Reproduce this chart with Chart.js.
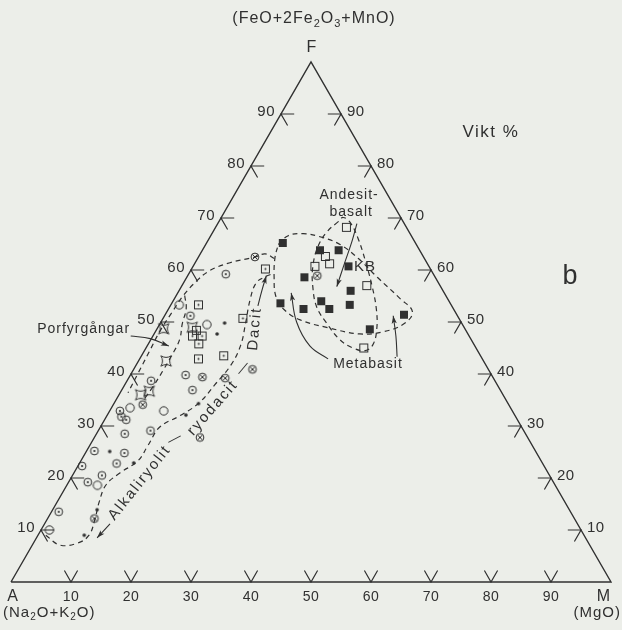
<!DOCTYPE html>
<html>
<head>
<meta charset="utf-8">
<script src="https://cdn.jsdelivr.net/npm/chart.js@4.4.1/dist/chart.umd.min.js"></script>
<style>
  html, body { margin: 0; padding: 0; background: #eceee9; }
  #wrap { width: 622px; height: 630px; position: relative; }
</style>
</head>
<body>
<div id="wrap"><canvas id="myChart"></canvas></div>
<script>
// every pair is [MgO %, (FeO+2Fe2O3+MnO) %], alkalis are the rest to 100
const tickValues = [10, 20, 30, 40, 50, 60, 70, 80, 90];

const openCircles = [[1.4, 53.3], [7.9, 49.5], [9.0, 32.9], [3.1, 33.5], [5.1, 18.6], [1.4, 10.0]];
const dotCircles = [[6.2, 59.2], [4.3, 51.2], [9.2, 39.8], [4.0, 38.7], [11.8, 36.9], [1.7, 32.9],
  [2.5, 31.8], [3.6, 31.2], [4.7, 28.5], [8.7, 29.1], [1.3, 25.2], [6.5, 24.8], [6.2, 22.8],
  [0.7, 22.3], [3.2, 19.2], [4.9, 20.5], [1.2, 13.5]];
const crossCircles = [[9.4, 62.5], [12.2, 39.4], [16.1, 39.2], [19.8, 40.9], [4.9, 34.1],
  [17.6, 27.8], [7.8, 12.2], [21.6, 58.9]];
const smallDots = [[10.7, 49.8], [10.5, 47.7], [14.1, 34.3], [13.1, 32.1], [3.9, 25.1],
  [9.0, 22.9], [7.4, 13.9], [7.7, 9.0]];
const dotSquares = [[12.3, 60.2], [4.6, 53.3], [13.3, 50.7], [6.6, 47.3], [8.2, 47.3],
  [6.7, 48.4], [8.4, 45.8], [9.8, 42.9], [13.7, 43.5]];
const porfyr = [[1.1, 48.7], [5.7, 49.0], [4.6, 42.5], [4.7, 36.7], [3.6, 36.0]];
const metabasitFilled = [[12.7, 65.2], [19.6, 63.8], [22.7, 63.8], [25.9, 60.7], [19.6, 58.6],
  [28.6, 56.0], [18.1, 53.6], [22.5, 52.5], [24.7, 54.0], [26.8, 52.5], [29.8, 53.3],
  [39.8, 51.4], [35.5, 48.6]];
const andesitOpen = [[21.8, 68.2], [21.1, 62.6], [22.5, 61.2], [20.3, 60.7], [30.8, 57.0], [36.3, 45.0]];

// field outlines (dashed)
const felsicRight = [[1.3, 9.0], [4.6, 7.1], [7.4, 7.5], [8.5, 9.0], [8.0, 11.9], [7.0, 15.4],
  [6.5, 18.7], [7.7, 21.0], [9.5, 23.3], [9.7, 26.2], [9.9, 29.8], [12.2, 32.0], [14.1, 34.4],
  [15.0, 37.9], [15.8, 41.8], [15.5, 45.6], [14.2, 49.8], [12.7, 54.3], [12.1, 57.5],
  [13.0, 58.7], [14.0, 59.3]];
const felsicTop = [[12.8, 62.2], [10.8, 63.1], [9.4, 62.5], [5.8, 61.4], [3.2, 59.9], [2.0, 57.9],
  [1.2, 55.2], [0.9, 51.8], [0.7, 48.1], [0.9, 44.3], [1.1, 40.2], [1.3, 36.4]];
const porfyrField = [[1.4, 55.1], [2.9, 52.6], [3.7, 49.7], [4.8, 46.6], [5.0, 43.5], [5.0, 40.6],
  [4.9, 37.7], [4.6, 35.2]];
const metabasitField = [[12.1, 64.9], [12.9, 66.6], [15.2, 67.0], [18.3, 66.4], [22.4, 64.9],
  [26.8, 62.2], [31.9, 58.5], [37.6, 54.5], [40.9, 52.0], [40.7, 49.7], [37.9, 48.1],
  [34.3, 47.7], [28.4, 48.9], [23.0, 50.4], [19.3, 52.4], [16.7, 54.9], [14.5, 58.7],
  [12.8, 62.4], [12.1, 64.9]];
const andesitField = [[19.9, 69.3], [19.0, 67.4], [18.9, 64.5], [20.0, 60.6], [21.9, 56.8],
  [24.5, 52.9], [27.7, 49.8], [31.5, 46.6], [34.5, 45.0], [36.8, 44.5], [37.5, 45.6],
  [36.7, 48.5], [34.7, 52.4], [31.8, 56.8], [28.0, 62.0], [24.7, 66.2], [22.0, 69.1],
  [20.3, 70.1], [19.9, 69.3]];

// pointer arrows
const arrowPorfyr = [[-3.7, 47.3], [-0.2, 46.8], [3.6, 45.4]];
const arrowDacit = [[14.6, 53.1], [13.8, 56.0], [13.1, 58.9]];
const arrowAlkali = [[10.9, 11.2], [10.1, 8.5]];
const arrowAndesit = [[23.2, 68.9], [24.1, 65.4], [25.0, 61.0], [25.9, 56.8]];
const arrowMeta1 = [[31.4, 42.9], [27.1, 45.4], [22.6, 50.0], [18.9, 55.6]];
const arrowMeta2 = [[42.7, 43.3], [40.5, 47.3], [38.1, 51.2]];

const annotations = [
  { text: 'Porfyrgångar', at: [-12.2, 48.6], size: 14 },
  { text: 'Andesit-', at: [19.2, 74.3], size: 14 },
  { text: 'basalt', at: [21.1, 71.2], size: 14 },
  { text: 'KB', at: [28.7, 60.6], size: 15 },
  { text: 'Metabasit', at: [38.6, 41.8], size: 14 },
  { text: 'Alkaliryolit', at: [11.9, 19.1], size: 15, angle: -51.5, spacing: 2 },
  { text: '\u2014', at: [13.5, 27.6], size: 14, angle: -28 },
  { text: 'ryodacit', at: [16.9, 33.5], size: 15, angle: -48.5, spacing: 2 },
  { text: '\u2014', at: [18.1, 41.2], size: 14, angle: -50 },
  { text: 'Dacit', at: [16.3, 48.7], size: 15, angle: -85, spacing: 2 },
  { text: 'Vikt %', at: [36.8, 86.4], size: 17, spacing: 1.5 },
  { text: 'b', at: [63.8, 58.7], size: 27, spacing: 0 }
];

const INK = '#303030';
const FONT = "'Liberation Sans', Arial, sans-serif";
const H = Math.sqrt(3) / 2;

function tern(m, f) {
  return { x: m + f / 2, y: f * H };
}
function toXY(list) {
  return list.map(p => tern(p[0], p[1]));
}

// little symbols used as point styles
function symbol(size, draw) {
  const c = document.createElement('canvas');
  c.width = size; c.height = size;
  const g = c.getContext('2d');
  g.strokeStyle = INK; g.fillStyle = INK; g.lineWidth = 1;
  draw(g, size / 2);
  return c;
}
const symOpenCircle = symbol(12, (g, c) => { g.beginPath(); g.arc(c, c, 4.2, 0, 2 * Math.PI); g.stroke(); });
const symDotCircle = symbol(12, (g, c) => {
  g.beginPath(); g.arc(c, c, 3.9, 0, 2 * Math.PI); g.stroke();
  g.beginPath(); g.arc(c, c, 1.1, 0, 2 * Math.PI); g.fill();
});
const symCrossCircle = symbol(12, (g, c) => {
  g.beginPath(); g.arc(c, c, 3.9, 0, 2 * Math.PI); g.stroke();
  g.beginPath();
  g.moveTo(c - 2.6, c - 2.6); g.lineTo(c + 2.6, c + 2.6);
  g.moveTo(c + 2.6, c - 2.6); g.lineTo(c - 2.6, c + 2.6);
  g.stroke();
});
const symDot = symbol(6, (g, c) => { g.beginPath(); g.arc(c, c, 1.8, 0, 2 * Math.PI); g.fill(); });
const symDotSquare = symbol(11, (g, c) => {
  g.strokeRect(1.5, 1.5, 8, 8);
  g.beginPath(); g.arc(c, c, 1, 0, 2 * Math.PI); g.fill();
});
const symStar = symbol(14, (g, c) => {
  const r = 5.2;
  g.beginPath();
  g.moveTo(c - r, c - r);
  g.quadraticCurveTo(c, c - 2, c + r, c - r);
  g.quadraticCurveTo(c + 2, c, c + r, c + r);
  g.quadraticCurveTo(c, c + 2, c - r, c + r);
  g.quadraticCurveTo(c - 2, c, c - r, c - r);
  g.stroke();
});
const symFilledSquare = symbol(10, (g) => { g.fillRect(1, 1, 8, 8); });
const symOpenSquare = symbol(11, (g) => { g.strokeRect(1.5, 1.5, 8, 8); });

// tick marks on the three edges, built from the tick values
const tickLen = 2.2;
const gap = { x: null, y: null };
const tickSegs = [];
tickValues.forEach(v => {
  tickSegs.push(tern(v - tickLen, tickLen), tern(v, 0), tern(v, tickLen), gap);
  tickSegs.push(tern(tickLen, v), tern(0, v), tern(tickLen, v - tickLen), gap);
  tickSegs.push(tern(100 - v - tickLen, v), tern(100 - v, v), tern(100 - v, v - tickLen), gap);
});

const lineBase = { showLine: true, borderColor: INK, pointRadius: 0, fill: false, clip: false };
const dashed = Object.assign({}, lineBase, { borderWidth: 1.2, borderDash: [5, 4], tension: 0.4 });
const arrow = Object.assign({}, lineBase, { borderWidth: 1.1, tension: 0.4, arrow: true });
function pts(list, style) {
  return { data: toXY(list), pointStyle: style, pointRadius: 4, clip: false };
}

const datasets = [
  Object.assign({}, lineBase, { data: toXY([[0, 0], [100, 0], [0, 100], [0, 0]]), borderWidth: 1.4 }),
  Object.assign({}, lineBase, { data: tickSegs, borderWidth: 1.2 }),
  Object.assign({}, dashed, { data: toXY(felsicRight) }),
  Object.assign({}, dashed, { data: toXY(felsicTop) }),
  Object.assign({}, dashed, { data: toXY(porfyrField) }),
  Object.assign({}, dashed, { data: toXY(metabasitField) }),
  Object.assign({}, dashed, { data: toXY(andesitField) }),
  Object.assign({}, arrow, { data: toXY(arrowPorfyr) }),
  Object.assign({}, arrow, { data: toXY(arrowDacit) }),
  Object.assign({}, arrow, { data: toXY(arrowAlkali) }),
  Object.assign({}, arrow, { data: toXY(arrowAndesit) }),
  Object.assign({}, arrow, { data: toXY(arrowMeta1) }),
  Object.assign({}, arrow, { data: toXY(arrowMeta2) }),
  pts(openCircles, symOpenCircle),
  pts(dotCircles, symDotCircle),
  pts(crossCircles, symCrossCircle),
  pts(smallDots, symDot),
  pts(dotSquares, symDotSquare),
  pts(porfyr, symStar),
  pts(metabasitFilled, symFilledSquare),
  pts(andesitOpen, symOpenSquare)
];

function drawText(ctx, str, x, y, size, align, angle, spacing) {
  ctx.save();
  ctx.font = size + 'px ' + FONT;
  ctx.letterSpacing = (spacing === undefined ? 1 : spacing) + 'px';
  ctx.fillStyle = INK;
  ctx.textAlign = align || 'center';
  ctx.textBaseline = 'middle';
  ctx.translate(x, y);
  if (angle) ctx.rotate(angle * Math.PI / 180);
  ctx.fillText(str, 0, 0);
  ctx.restore();
}

// text with subscripts, parts = [[text, isSub], ...]
function drawRich(ctx, parts, x, y, size, align) {
  ctx.save();
  ctx.fillStyle = INK;
  ctx.textBaseline = 'middle';
  ctx.textAlign = 'left';
  ctx.letterSpacing = '1px';
  const subSize = Math.round(size * 0.68);
  let total = 0;
  parts.forEach(p => { ctx.font = (p[1] ? subSize : size) + 'px ' + FONT; total += ctx.measureText(p[0]).width; });
  let cx = align === 'center' ? x - total / 2 : (align === 'right' ? x - total : x);
  parts.forEach(p => {
    ctx.font = (p[1] ? subSize : size) + 'px ' + FONT;
    ctx.fillText(p[0], cx, p[1] ? y + size * 0.3 : y);
    cx += ctx.measureText(p[0]).width;
  });
  ctx.restore();
}

function arrowHead(ctx, meta) {
  const list = meta.data;
  const end = list[list.length - 1];
  let bx = end.cp1x, by = end.cp1y;
  if (bx === undefined || (Math.abs(bx - end.x) < 0.5 && Math.abs(by - end.y) < 0.5)) {
    bx = list[list.length - 2].x; by = list[list.length - 2].y;
  }
  const a = Math.atan2(end.y - by, end.x - bx);
  ctx.save();
  ctx.fillStyle = INK;
  ctx.translate(end.x, end.y);
  ctx.rotate(a);
  ctx.beginPath();
  ctx.moveTo(0, 0); ctx.lineTo(-8, -2.6); ctx.lineTo(-6, 0); ctx.lineTo(-8, 2.6);
  ctx.closePath(); ctx.fill();
  ctx.restore();
}

const textPlugin = {
  id: 'ternaryText',
  afterDatasetsDraw(chart) {
    const ctx = chart.ctx;
    const xs = chart.scales.x, ys = chart.scales.y;
    const px = (m, f) => [xs.getPixelForValue(m + f / 2), ys.getPixelForValue(f * H)];

    chart.data.datasets.forEach((ds, i) => { if (ds.arrow) arrowHead(ctx, chart.getDatasetMeta(i)); });

    tickValues.forEach(v => {
      let p = px(v, 0);
      drawText(ctx, String(v), p[0], p[1] + 15, 14, 'center', 0, 0.5);
      p = px(0, v);
      drawText(ctx, String(v), p[0] - 6, p[1] - 2, 15, 'right', 0, 0.5);
      p = px(100 - v, v);
      drawText(ctx, String(v), p[0] + 6, p[1] - 2, 15, 'left', 0, 0.5);
    });

    const a = px(0, 0), m = px(100, 0), f = px(0, 100);
    drawText(ctx, 'F', f[0] + 1, f[1] - 14, 16);
    drawRich(ctx, [['(FeO+2Fe', 0], ['2', 1], ['O', 0], ['3', 1], ['+MnO)', 0]], f[0] + 3, f[1] - 43, 16, 'center');
    drawText(ctx, 'A', a[0] + 2, a[1] + 15, 16);
    drawRich(ctx, [['(Na', 0], ['2', 1], ['O+K', 0], ['2', 1], ['O)', 0]], a[0] - 8, a[1] + 31, 15, 'left');
    drawText(ctx, 'M', m[0] - 7, m[1] + 15, 16);
    drawText(ctx, '(MgO)', m[0] + 10, m[1] + 31, 15, 'right');

    annotations.forEach(n => {
      const p = px(n.at[0], n.at[1]);
      drawText(ctx, n.text, p[0], p[1], n.size, 'center', n.angle || 0, n.spacing);
    });
  }
};

const config = {
  type: 'scatter',
  data: { datasets: datasets },
  options: {
    responsive: true,
    maintainAspectRatio: false,
    animation: false,
    layout: { padding: { left: 11, right: 11, top: 62, bottom: 48 } },
    scales: {
      x: { type: 'linear', min: 0, max: 100, display: false },
      y: { type: 'linear', min: 0, max: 100 * H, display: false }
    },
    plugins: { legend: { display: false }, tooltip: { enabled: false } },
    events: []
  },
  plugins: [textPlugin]
};

const chart = new Chart('myChart', config);
</script>
</body>
</html>
